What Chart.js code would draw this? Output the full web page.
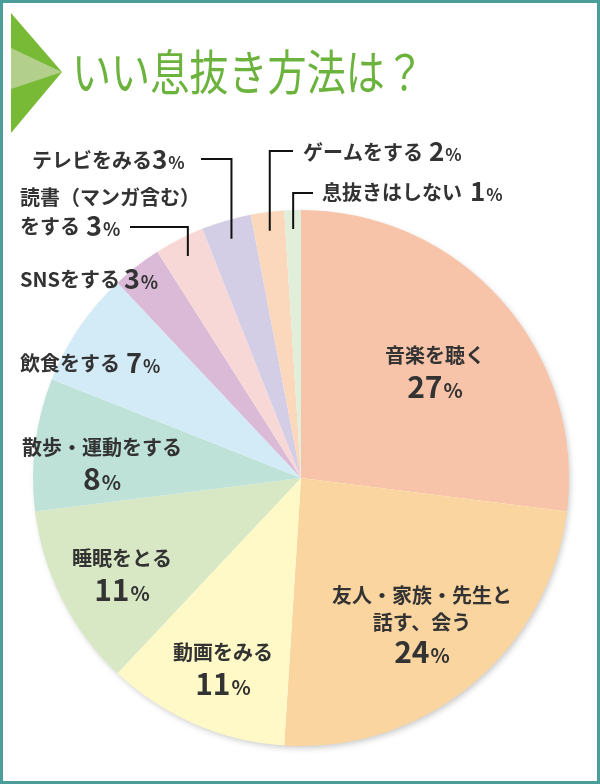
<!DOCTYPE html>
<html lang="ja">
<head>
<meta charset="utf-8">
<script src="https://cdn.jsdelivr.net/npm/chart.js@4.4.1/dist/chart.umd.min.js"></script>
<style>
    html, body { margin: 0; padding: 0; background: #fff; }
    #wrap { position: relative; width: 600px; height: 784px; }
    #frame { position: absolute; left: 0; top: 0; width: 600px; height: 784px; box-sizing: border-box; border: 3px solid #4a9d99; pointer-events: none; }
</style>
</head>
<body>
<div id="wrap">
    <canvas id="pieChart" width="600" height="784"></canvas>
    <div id="frame"></div>
</div>
<script>
// Data
const chartTitle = 'いい息抜き方法は？';
const categories = [
    '音楽を聴く',
    '友人・家族・先生と\n話す、会う',
    '動画をみる',
    '睡眠をとる',
    '散歩・運動をする',
    '飲食をする',
    'SNSをする',
    '読書（マンガ含む）\nをする',
    'テレビをみる',
    'ゲームをする',
    '息抜きはしない'
];
const shares = [27, 24, 11, 11, 8, 7, 3, 3, 3, 2, 1];

// Styles
const sliceColors = [
    '#f7c4a9', '#fad59f', '#fef9c6', '#d8e8c5', '#bfe2d8', '#d3ebf7',
    '#dbbad8', '#f8d8d7', '#d3cee6', '#fbd7bb', '#e1eed9'
];
const textColor = '#333333';
const jpFont = '"Noto Sans CJK JP", "Noto Sans", sans-serif';

// Where each label sits (layout only)
const labelLayout = [
    { x: 435, ys: [355], pctY: 387, align: 'center', num: 30, pct: 20 },
    { x: 422, ys: [595, 622], pctY: 652, align: 'center', num: 30, pct: 20 },
    { x: 223, ys: [652], pctY: 684, align: 'center', num: 30, pct: 20 },
    { x: 122, ys: [558], pctY: 590, align: 'center', num: 30, pct: 20 },
    { x: 102, ys: [447], pctY: 479, align: 'center', num: 30, pct: 20 },
    { x: 20, ys: [363], align: 'left', num: 27, pct: 18, gap: 6 },
    { x: 20, ys: [279], align: 'left', num: 27, pct: 18, gap: 4 },
    { x: 20, ys: [197, 226], align: 'left', num: 27, pct: 18, gap: 6, leader: { x: 130, y: 227 } },
    { x: 32, ys: [160], align: 'left', num: 26, pct: 17, gap: 0, leader: { x: 201, y: 159 } },
    { x: 303, ys: [152], align: 'left', num: 26, pct: 17, gap: 6, leader: { x: 293, y: 151 } },
    { x: 322, ys: [192], align: 'left', num: 26, pct: 17, gap: 8, leader: { x: 313, y: 193 } }
];

function drawPct(ctx, value, x, y, align, numSize, pctSize) {
    const num = String(value);
    ctx.font = `700 ${numSize}px ${jpFont}`;
    const wn = ctx.measureText(num).width;
    ctx.font = `700 ${pctSize}px ${jpFont}`;
    const wp = ctx.measureText('%').width;
    let left = align === 'center' ? x - (wn + wp + 1) / 2 : x;
    ctx.textAlign = 'left';
    ctx.textBaseline = 'alphabetic';
    const base = y + numSize * 0.36;
    ctx.font = `700 ${numSize}px ${jpFont}`;
    ctx.fillText(num, left, base);
    ctx.font = `700 ${pctSize}px ${jpFont}`;
    ctx.fillText('%', left + wn + 1, base);
    return left + wn + wp + 1;
}

const pieShadow = {
    id: 'pieShadow',
    beforeDatasetsDraw(chart) {
        const arc = chart.getDatasetMeta(0).data[0];
        if (!arc) return;
        const ctx = chart.ctx;
        ctx.save();
        ctx.shadowColor = 'rgba(0,0,0,0.22)';
        ctx.shadowBlur = 6;
        ctx.shadowOffsetX = 2;
        ctx.shadowOffsetY = 3;
        ctx.fillStyle = '#ffffff';
        ctx.beginPath();
        ctx.arc(arc.x, arc.y, arc.outerRadius - 1, 0, Math.PI * 2);
        ctx.fill();
        ctx.restore();
    }
};

const titleAndLabels = {
    id: 'titleAndLabels',
    afterDraw(chart) {
        const ctx = chart.ctx;
        ctx.save();

        // heading marker
        ctx.fillStyle = '#78b936';
        ctx.beginPath();
        ctx.moveTo(11, 13); ctx.lineTo(62, 72); ctx.lineTo(11, 133); ctx.closePath();
        ctx.fill();
        ctx.fillStyle = '#b2d08c';
        ctx.beginPath();
        ctx.moveTo(11, 48); ctx.lineTo(62, 72); ctx.lineTo(11, 89); ctx.closePath();
        ctx.fill();

        // heading text, slightly condensed
        ctx.font = `400 48px ${jpFont}`;
        ctx.fillStyle = '#6cb33e';
        ctx.textBaseline = 'middle';
        ctx.textAlign = 'left';
        const tw = ctx.measureText(chartTitle).width;
        ctx.save();
        ctx.translate(72, 72);
        ctx.scale(352 / tw, 1);
        ctx.fillText(chartTitle, 0, 0);
        ctx.restore();

        // slice labels
        const arcs = chart.getDatasetMeta(0).data;
        arcs.forEach((arc, i) => {
            const lay = labelLayout[i];
            const lines = categories[i].split('\n');
            ctx.fillStyle = textColor;

            if (lay.leader) {
                const mid = (arc.startAngle + arc.endAngle) / 2;
                const ax = arc.x + Math.cos(mid) * arc.outerRadius * 0.93;
                const ay = arc.y + Math.sin(mid) * arc.outerRadius * 0.93;
                ctx.strokeStyle = '#111111';
                ctx.lineWidth = 2;
                ctx.beginPath();
                ctx.moveTo(ax, ay);
                ctx.lineTo(ax, lay.leader.y);
                ctx.lineTo(lay.leader.x, lay.leader.y);
                ctx.stroke();
            }

            lines.forEach((line, k) => {
                ctx.font = `700 20px ${jpFont}`;
                ctx.textAlign = lay.align;
                ctx.textBaseline = 'middle';
                ctx.fillText(line, lay.x, lay.ys[k]);
            });

            if (lay.pctY !== undefined) {
                drawPct(ctx, shares[i], lay.x, lay.pctY, 'center', lay.num, lay.pct);
            } else {
                const last = lines[lines.length - 1];
                ctx.font = `700 20px ${jpFont}`;
                const w = ctx.measureText(last).width;
                drawPct(ctx, shares[i], lay.x + w + lay.gap, lay.ys[lines.length - 1], 'left', lay.num, lay.pct);
            }
        });
        ctx.restore();
    }
};

new Chart(document.getElementById('pieChart'), {
    type: 'pie',
    data: {
        labels: categories,
        datasets: [{
            data: shares,
            backgroundColor: sliceColors,
            borderWidth: 0
        }]
    },
    options: {
        responsive: false,
        animation: false,
        layout: {
            padding: { left: 33, right: 31, top: 210, bottom: 38 }
        },
        plugins: {
            legend: { display: false },
            tooltip: { enabled: false }
        }
    },
    plugins: [pieShadow, titleAndLabels]
});
</script>
</body>
</html>
